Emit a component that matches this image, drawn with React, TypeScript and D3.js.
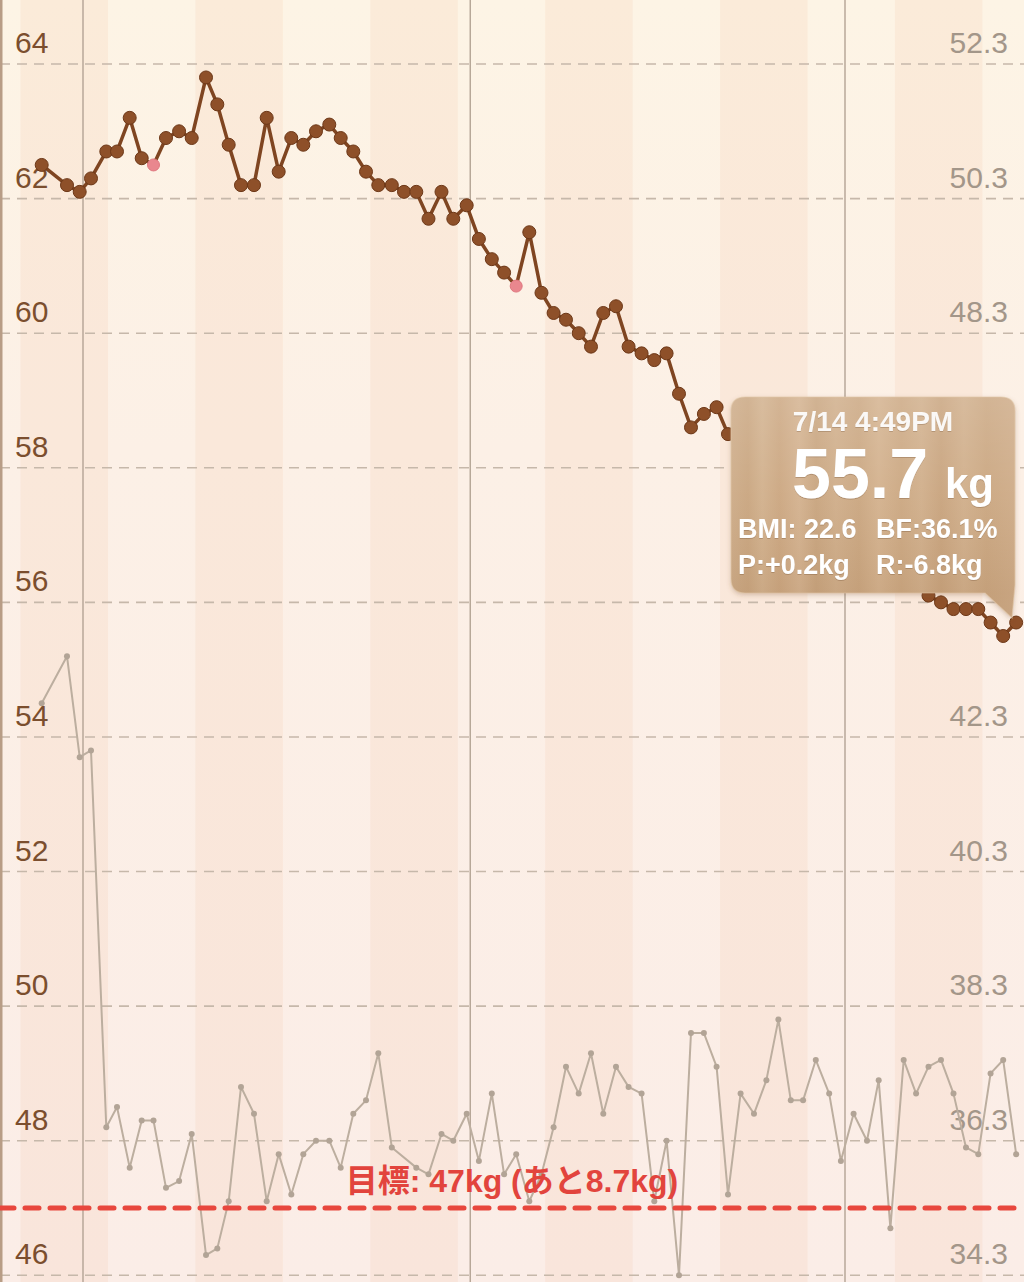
import React from "react";
import * as d3 from "d3";

// ---- data ----
const timestamps: string[] = [
  "2015-04-27 16:39", "2015-04-29 17:15", "2015-04-30 17:40", "2015-05-01 15:22",
  "2015-05-02 20:45", "2015-05-03 17:20", "2015-05-04 17:43", "2015-05-05 16:47",
  "2015-05-06 15:27", "2015-05-07 15:27", "2015-05-08 16:38", "2015-05-09 16:51",
  "2015-05-10 20:20", "2015-05-11 18:03", "2015-05-12 15:56", "2015-05-13 15:33",
  "2015-05-14 16:32", "2015-05-15 16:55", "2015-05-16 15:59", "2015-05-17 16:12",
  "2015-05-18 15:16", "2015-05-19 15:39", "2015-05-20 17:12", "2015-05-21 15:06",
  "2015-05-22 15:19", "2015-05-23 15:43", "2015-05-24 15:20", "2015-05-25 17:17",
  "2015-05-26 16:44", "2015-05-27 16:21", "2015-05-28 15:47", "2015-05-29 16:45",
  "2015-05-30 15:26", "2015-05-31 17:11", "2015-06-01 16:37", "2015-06-02 17:24",
  "2015-06-03 17:02", "2015-06-04 16:16", "2015-06-05 17:27", "2015-06-06 16:52",
  "2015-06-07 16:08", "2015-06-08 15:57", "2015-06-09 16:22", "2015-06-10 15:59",
  "2015-06-11 15:36", "2015-06-12 16:00", "2015-06-13 16:13", "2015-06-14 17:12",
  "2015-06-15 17:36", "2015-06-16 17:14", "2015-06-17 17:04", "2015-06-18 16:06",
  "2015-06-19 16:54", "2015-06-20 17:17", "2015-06-21 15:12", "2015-06-22 15:24",
  "2015-06-23 17:08", "2015-06-24 16:58", "2015-06-25 16:02", "2015-06-26 15:50",
  "2015-06-27 15:29", "2015-06-28 15:52", "2015-06-29 17:37", "2015-06-30 16:06",
  "2015-07-01 16:31", "2015-07-02 18:14", "2015-07-03 16:44", "2015-07-04 15:12",
  "2015-07-05 16:45", "2015-07-06 16:35", "2015-07-07 16:25", "2015-07-08 16:25",
  "2015-07-09 16:26", "2015-07-10 16:27", "2015-07-11 16:05", "2015-07-12 15:42",
  "2015-07-13 15:55", "2015-07-14 16:49",
];

// weight (kg); null = hidden behind the tooltip in the reference
const weightKg: (number | null)[] = [
  62.5, 62.2, 62.1, 62.3, 62.7, 62.7, 63.2, 62.6, 62.5, 62.9, 63.0, 62.9,
  63.8, 63.4, 62.8, 62.2, 62.2, 63.2, 62.4, 62.9, 62.8, 63.0, 63.1, 62.9,
  62.7, 62.4, 62.2, 62.2, 62.1, 62.1, 61.7, 62.1, 61.7, 61.9, 61.4, 61.1,
  60.9, 60.7, 61.5, 60.6, 60.3, 60.2, 60.0, 59.8, 60.3, 60.4, 59.8, 59.7,
  59.6, 59.7, 59.1, 58.6, 58.8, 58.9, 58.5,
  null, null, null, null, null, null, null, null, null, null, null, null, null, null, null,
  56.1, 56.0, 55.9, 55.9, 55.9, 55.7, 55.5, 55.7,
];

// body fat (%), right axis
const bodyFatPct: (number | null)[] = [
  42.8, 43.5, 42.0, 42.1, 36.5, 36.8, 35.9, 36.6, 36.6, 35.6, 35.7, 36.4,
  34.6, 34.7, 35.4, 37.1, 36.7, 35.4, 36.1, 35.5, 36.1, 36.3, 36.3, 35.9,
  36.7, 36.9, 37.6, 36.2, null, 35.9, 35.8, 36.4, 36.3, 36.7, 36.0, 37.0,
  35.8, 36.1, 35.4, 35.8, 36.5, 37.4, 37.0, 37.6, 36.7, 37.4, 37.1, 37.0,
  35.4, 36.3, 34.3, 37.9, 37.9, 37.4, 35.5, 37.0, 36.7, 37.2, 38.1, 36.9,
  36.9, 37.5, 37.0, 36.0, 36.7, 36.3, 37.2, 35.0, 37.5, 37.0, 37.4, 37.5,
  37.0, 36.2, 36.1, 37.3, 37.5, 36.1,
];

const markedIdx: number[] = [8, 37];
const weightTicks: number[] = [46, 48, 50, 52, 54, 56, 58, 60, 62, 64];
const fatTicks: number[] = [34.3, 36.3, 38.3, 40.3, 42.3, 44.3, 46.3, 48.3, 50.3, 52.3];
const goalKg = 47;
const goalLabel = "目標: 47kg (あと8.7kg)";
const tipDate = "7/14 4:49PM";
const tipWeight = "55.7";
const tipUnit = "kg";
const tipBMI = "BMI: 22.6";
const tipBF = "BF:36.1%";
const tipP = "P:+0.2kg";
const tipR = "R:-6.8kg";

const W = 1024;
const H = 1282;

export default function App() {
  const parse = d3.timeParse("%Y-%m-%d %H:%M");
  const dates = timestamps.map((t) => parse(t) as Date);

  const x = d3
    .scaleTime()
    .domain([new Date(2015, 4, 1), new Date(2015, 6, 1)])
    .range([83, 845]);
  const yW = d3.scaleLinear().domain([46, 64]).range([1275.3, 64]);
  const yF = d3.scaleLinear().domain([34.3, 52.3]).range([1275.3, 64]);

  const weightPts = dates
    .map((d, i) => ({ d, v: weightKg[i], i }))
    .filter((p) => p.v !== null) as { d: Date; v: number; i: number }[];
  const fatPts = dates
    .map((d, i) => ({ d, v: bodyFatPct[i], i }))
    .filter((p) => p.v !== null) as { d: Date; v: number; i: number }[];

  const lineW = d3
    .line<{ d: Date; v: number }>()
    .x((p) => x(p.d))
    .y((p) => yW(p.v));
  const lineF = d3
    .line<{ d: Date; v: number }>()
    .x((p) => x(p.d))
    .y((p) => yF(p.v));

  const ref = new Date(2015, 3, 26);
  const sundays = d3.timeSunday.range(new Date(2015, 3, 19), new Date(2015, 6, 20));
  const bands = sundays.map((s) => {
    const k = Math.round((+s - +ref) / (7 * 864e5));
    return { x0: x(s), x1: x(d3.timeDay.offset(s, 7)), dark: ((k % 2) + 2) % 2 === 0 };
  });
  const monthLines = [new Date(2015, 4, 1), new Date(2015, 5, 1), new Date(2015, 6, 1)];

  // wood streak stops (deterministic)
  const woodStops = [
    [0, "#cdab87"], [0.06, "#c9a57f"], [0.11, "#d1b08c"], [0.17, "#cba680"],
    [0.24, "#d3b18e"], [0.3, "#c8a47e"], [0.37, "#cfad89"], [0.45, "#caa680"],
    [0.52, "#d3b18d"], [0.6, "#cba781"], [0.67, "#d0ae8a"], [0.74, "#c8a37d"],
    [0.82, "#d0ae8a"], [0.9, "#caa680"], [1, "#ceab87"],
  ];

  const tx = 731, ty = 397, tw = 284, th = 196, tr = 14;
  const tipPath =
    `M${tx + tr},${ty} H${tx + tw - tr} Q${tx + tw},${ty} ${tx + tw},${ty + tr} ` +
    `V${ty + th - 8} L${1012},${618} L${985},${ty + th} ` +
    `H${tx + tr} Q${tx},${ty + th} ${tx},${ty + th - tr} V${ty + tr} Q${tx},${ty} ${tx + tr},${ty} Z`;

  // right-axis labels that sit under the tooltip are covered in the reference
  const visibleFatTicks = fatTicks.filter((t) => {
    const yb = yF(t) - 11;
    return !(yb - 24 < ty + th && yb > ty);
  });

  const sans = "'Liberation Sans', Arial, Helvetica, sans-serif";

  return (
    <div style={{ position: "absolute", left: 0, top: 0, width: W, height: H }}>
      <svg width={W} height={H} viewBox={`0 0 ${W} ${H}`} style={{ display: "block" }}>
        <defs>
          <linearGradient id="bg" x1="0" y1="0" x2="0" y2="1">
            <stop offset="0" stopColor="#fdf4e5" />
            <stop offset="0.35" stopColor="#fcf0e6" />
            <stop offset="1" stopColor="#fbede7" />
          </linearGradient>
          <linearGradient id="wood" gradientUnits="userSpaceOnUse" x1={tx} y1="0" x2={tx + tw} y2="0">
            {woodStops.map(([o, c], i) => (
              <stop key={i} offset={o as number} stopColor={c as string} />
            ))}
          </linearGradient>
          <linearGradient id="woodShade" gradientUnits="userSpaceOnUse" x1="0" y1={ty} x2="0" y2={ty + th}>
            <stop offset="0" stopColor="#ffffff" stopOpacity="0.16" />
            <stop offset="0.5" stopColor="#ffffff" stopOpacity="0.05" />
            <stop offset="1" stopColor="#6b4020" stopOpacity="0.06" />
          </linearGradient>
          <filter id="tipShadow" x="-10%" y="-10%" width="130%" height="130%">
            <feDropShadow dx="0" dy="2" stdDeviation="2.5" floodColor="#7a5030" floodOpacity="0.3" />
          </filter>
          <filter id="txtShadow" x="-5%" y="-20%" width="110%" height="140%">
            <feDropShadow dx="0" dy="1" stdDeviation="0.6" floodColor="#6b4525" floodOpacity="0.3" />
          </filter>
        </defs>

        {/* background */}
        <rect x={0} y={0} width={W} height={H} fill="url(#bg)" />
        {bands
          .filter((b) => b.dark)
          .map((b, i) => (
            <rect key={i} x={b.x0} y={0} width={b.x1 - b.x0} height={H} fill="#f2b488" opacity={0.13} />
          ))}

        {/* horizontal grid */}
        {weightTicks.map((t) => (
          <line
            key={t}
            x1={0}
            x2={W}
            y1={yW(t)}
            y2={yW(t)}
            stroke="#c6b8aa"
            strokeWidth={1.6}
            strokeDasharray="10 7"
          />
        ))}

        {/* month lines */}
        {monthLines.map((m, i) => (
          <line key={i} x1={x(m)} x2={x(m)} y1={0} y2={H} stroke="#b3a394" strokeWidth={1.4} />
        ))}
        <rect x={0} y={0} width={2.5} height={H} fill="#b89d86" />

        {/* axis labels */}
        {weightTicks.map((t) => (
          <text key={t} x={15} y={yW(t) - 11} fontFamily={sans} fontSize={30} fill="#7b4e2e">
            {t}
          </text>
        ))}
        {visibleFatTicks.map((t) => (
          <text
            key={t}
            x={1008}
            y={yF(t) - 11}
            fontFamily={sans}
            fontSize={30}
            fill="#a39689"
            textAnchor="end"
          >
            {t.toFixed(1)}
          </text>
        ))}

        {/* body fat series */}
        <path d={lineF(fatPts) || ""} fill="none" stroke="#bcae9f" strokeWidth={2} strokeLinejoin="round" />
        {fatPts.map((p) => (
          <circle key={p.i} cx={x(p.d)} cy={yF(p.v)} r={3} fill="#b2a496" />
        ))}

        {/* goal line */}
        <line
          x1={0}
          x2={W}
          y1={yW(goalKg)}
          y2={yW(goalKg)}
          stroke="#e8473d"
          strokeWidth={5}
          strokeDasharray="14 11"
          strokeLinecap="round"
        />
        <text
          x={512}
          y={yW(goalKg) - 16}
          textAnchor="middle"
          fontFamily="'Liberation Sans', 'Noto Sans CJK JP', sans-serif"
          fontWeight="bold"
          fontSize={32}
          fill="#e2443d"
        >
          {goalLabel}
        </text>

        {/* weight series */}
        <path
          d={lineW(weightPts) || ""}
          fill="none"
          stroke="#7f4521"
          strokeWidth={3.5}
          strokeLinejoin="round"
        />
        {weightPts.map((p) => {
          const marked = markedIdx.includes(p.i);
          return (
            <circle
              key={p.i}
              cx={x(p.d)}
              cy={yW(p.v)}
              r={marked ? 6 : 6.5}
              fill={marked ? "#e9878e" : "#8e5029"}
              stroke={marked ? "#e07880" : "#6d3818"}
              strokeWidth={1}
            />
          );
        })}

        {/* tooltip */}
        <g>
          <path d={tipPath} fill="url(#wood)" filter="url(#tipShadow)" />
          <path d={tipPath} fill="url(#woodShade)" stroke="#e2c9ab" strokeOpacity={0.6} strokeWidth={1.2} />
          <g fill="#ffffff" fontFamily={sans} fontWeight="bold" filter="url(#txtShadow)">
            <text x={873} y={431} textAnchor="middle" fontSize={28} fillOpacity={0.92}>
              {tipDate}
            </text>
            <text x={792} y={498} fontSize={70}>
              {tipWeight}
            </text>
            <text x={945} y={498} fontSize={42}>
              {tipUnit}
            </text>
            <text x={738} y={538} fontSize={27}>
              {tipBMI}
            </text>
            <text x={876} y={538} fontSize={27}>
              {tipBF}
            </text>
            <text x={738} y={574} fontSize={27}>
              {tipP}
            </text>
            <text x={876} y={574} fontSize={27}>
              {tipR}
            </text>
          </g>
        </g>
      </svg>
    </div>
  );
}
